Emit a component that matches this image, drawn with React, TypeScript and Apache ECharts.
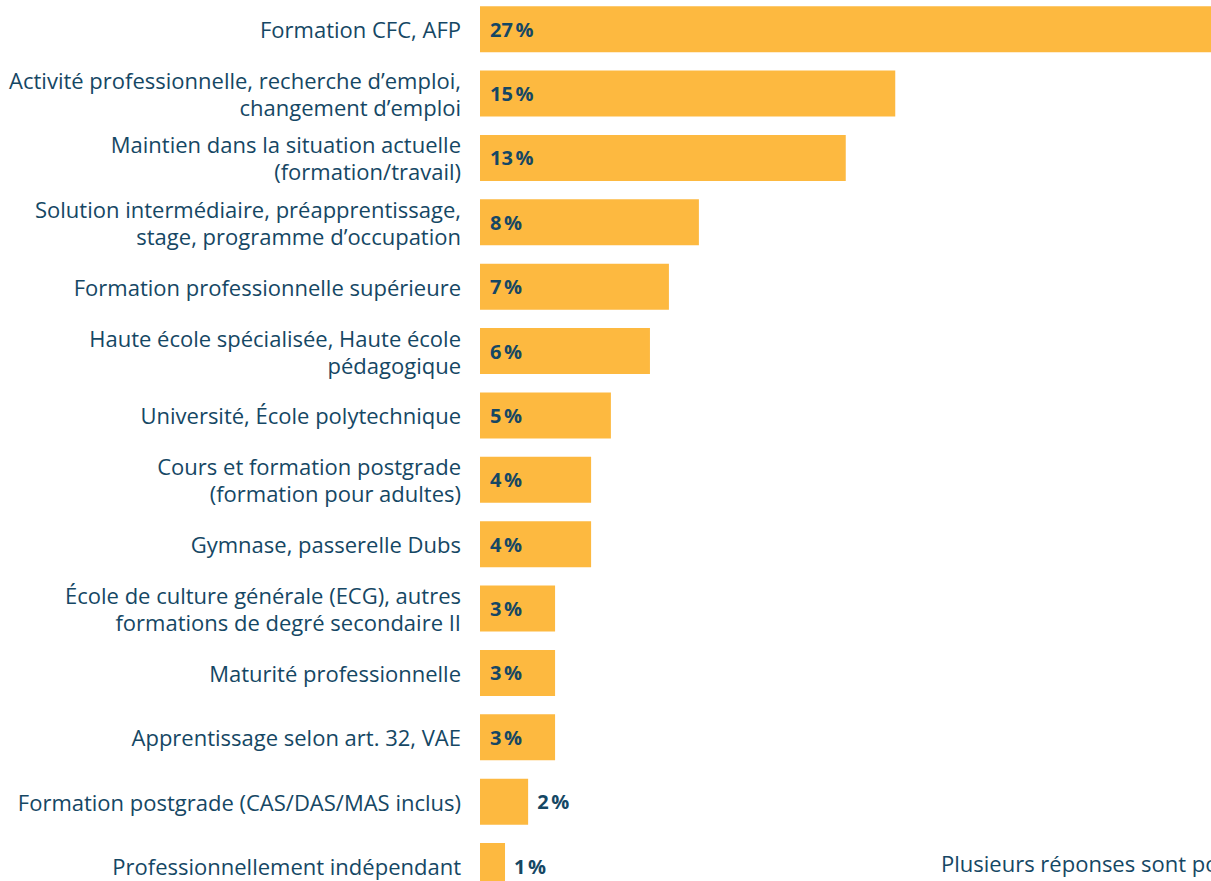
import React, { useEffect, useRef } from "react";
import * as echarts from "echarts";

const categories = [
  "Formation CFC, AFP",
  "Activité professionnelle, recherche d’emploi,\nchangement d’emploi",
  "Maintien dans la situation actuelle\n(formation/travail)",
  "Solution intermédiaire, préapprentissage,\nstage, programme d’occupation",
  "Formation professionnelle supérieure",
  "Haute école spécialisée, Haute école\npédagogique",
  "Université, École polytechnique",
  "Cours et formation postgrade\n(formation pour adultes)",
  "Gymnase, passerelle Dubs",
  "École de culture générale (ECG), autres\nformations de degré secondaire II",
  "Maturité professionnelle",
  "Apprentissage selon art. 32, VAE",
  "Formation postgrade (CAS/DAS/MAS inclus)",
  "Professionnellement indépendant",
];

const values = [27.0, 15.1, 13.3, 7.96, 6.87, 6.18, 4.76, 4.04, 4.04, 2.73, 2.73, 2.73, 1.75, 0.91];

const footnote = "Plusieurs réponses sont possibles.";

const FONT = "'Open Sans', sans-serif";
const TEXT = "#154764";
const BAR = "#FDB940";

export default function App() {
  const ref = useRef<HTMLDivElement>(null);
  useEffect(() => {
    if (!ref.current) return;
    const chart = echarts.init(ref.current, undefined, { renderer: "svg" });
    const ROW = 64.375;
    chart.setOption({
      animation: false,
      grid: { left: 480, top: 0, width: 770, height: ROW * categories.length },
      xAxis: {
        type: "value",
        min: 0,
        max: 28,
        show: false,
      },
      yAxis: {
        type: "category",
        inverse: true,
        data: categories,
        axisLine: { show: false },
        axisTick: { show: false },
        axisLabel: {
          margin: 19,
          color: TEXT,
          fontFamily: FONT,
          fontSize: 22,
          lineHeight: 27,
          align: "right",
        },
      },
      series: [
        {
          type: "bar",
          data: values.map((v) => ({
            value: v,
            label: {
              position: v < 2.5 ? "right" : "insideLeft",
              distance: v < 2.5 ? 9 : 10,
            },
          })),
          barWidth: 46,
          itemStyle: { color: BAR },
          clip: true,
          label: {
            show: true,
            color: TEXT,
            fontFamily: FONT,
            fontSize: 20,
            fontWeight: "bold",
            formatter: (p: any) => Math.round(p.value) + "\u202f%",
          },
        },
      ],
      graphic: [
        {
          type: "text",
          left: 941,
          top: 855,
          style: {
            text: footnote,
            fill: TEXT,
            font: `22px ${FONT}`,
          },
        },
      ],
    });
    return () => chart.dispose();
  }, []);
  return (
    <div
      ref={ref}
      style={{ position: "fixed", left: 0, top: -3, width: 1250, height: 910, background: "#fff" }}
    />
  );
}
